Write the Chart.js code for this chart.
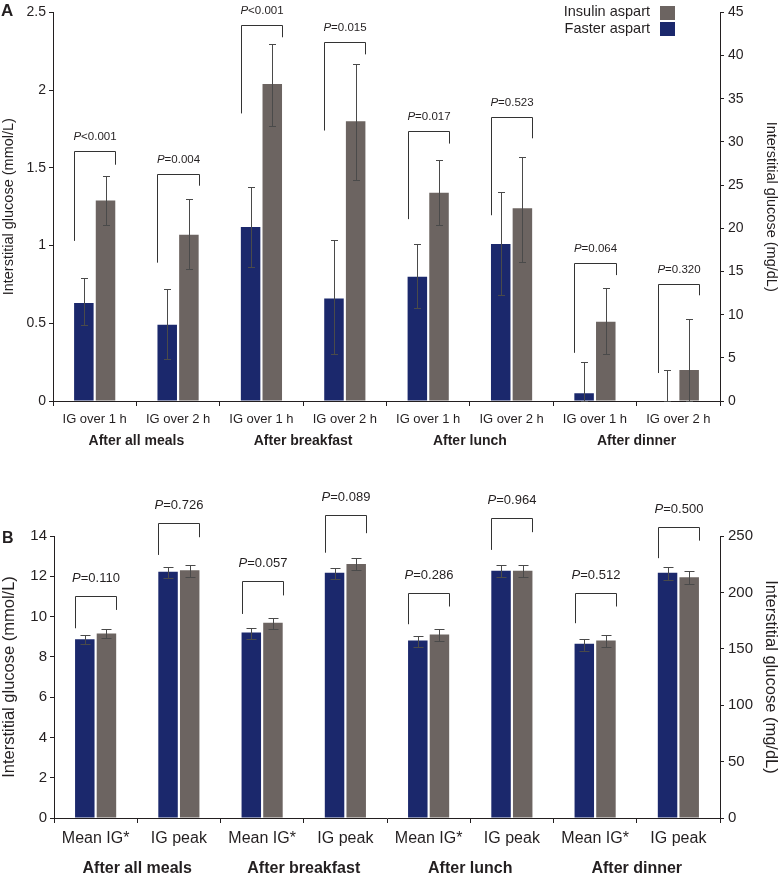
<!DOCTYPE html>
<html><head><meta charset="utf-8">
<script src="https://cdn.jsdelivr.net/npm/chart.js@4/dist/chart.umd.min.js"></script>
<style>
html,body{margin:0;padding:0;background:#fff;}
#wrap{position:relative;width:780px;height:877px;overflow:hidden;font-family:"Liberation Sans",Arial,sans-serif;color:#231f20;}
canvas{position:absolute;left:0;}
.lbl{position:absolute;font-weight:bold;line-height:1;}
.leg{position:absolute;font-size:14.5px;line-height:1;text-align:right;width:200px;}
.sw{position:absolute;width:15px;height:14px;}
</style></head><body>
<div id="wrap">
<canvas id="cA" width="780" height="455" style="top:0"></canvas>
<canvas id="cB" width="780" height="422" style="top:455px"></canvas>
<div class="lbl" style="left:1px;top:2px;font-size:17px">A</div>
<div class="lbl" style="left:2px;top:530px;font-size:16px">B</div>
<div class="leg" style="left:450px;top:4px">Insulin aspart</div>
<div class="leg" style="left:450px;top:21px">Faster aspart</div>
<div class="sw" style="left:660px;top:6px;background:#6c6461"></div>
<div class="sw" style="left:660px;top:22px;background:#1b286c"></div>
</div>
<script>
// ---------- Panel A data ----------
const catsA = ['IG over 1 h','IG over 2 h','IG over 1 h','IG over 2 h','IG over 1 h','IG over 2 h','IG over 1 h','IG over 2 h'];
const groupsA = ['After all meals','After breakfast','After lunch','After dinner'];
const fasterA    = [0.63, 0.49, 1.12, 0.66, 0.80, 1.01, 0.05, 0];
const fasterA_lo = [0.49, 0.27, 0.86, 0.30, 0.60, 0.68, 0, 0];
const fasterA_hi = [0.79, 0.72, 1.375, 1.034, 1.01, 1.345, 0.25, 0.197];
const insulinA    = [1.29, 1.07, 2.04, 1.80, 1.34, 1.24, 0.51, 0.20];
const insulinA_lo = [1.134, 0.85, 1.77, 1.42, 1.134, 0.895, 0.30, 0];
const insulinA_hi = [1.447, 1.30, 2.295, 2.17, 1.55, 1.57, 0.725, 0.53];
const bracketTopA = [1.607, 1.46, 2.418, 2.31, 1.74, 1.825, 0.89, 0.753];
const bracketLA   = [1.03, 0.89, 1.85, 1.74, 1.17, 1.195, 0.31, 0.18];
const bracketRA   = [1.52, 1.385, 2.34, 2.23, 1.656, 1.69, 0.81, 0.68];
const pA = ['<0.001','=0.004','<0.001','=0.015','=0.017','=0.523','=0.064','=0.320'];
const yTicksA  = ['0','0.5','1','1.5','2','2.5'];
const y1TicksA = ['0','5','10','15','20','25','30','35','40','45'];

// ---------- Panel B data ----------
const catsB = ['Mean IG*','IG peak','Mean IG*','IG peak','Mean IG*','IG peak','Mean IG*','IG peak'];
const groupsB = ['After all meals','After breakfast','After lunch','After dinner'];
const fasterB    = [8.88, 12.22, 9.21, 12.17, 8.81, 12.28, 8.65, 12.18];
const fasterB_lo = [8.65, 11.93, 8.91, 11.87, 8.48, 11.95, 8.30, 11.82];
const fasterB_hi = [9.09, 12.48, 9.45, 12.43, 9.06, 12.56, 8.89, 12.48];
const insulinB    = [9.16, 12.30, 9.69, 12.61, 9.11, 12.28, 8.81, 11.95];
const insulinB_lo = [8.93, 11.98, 9.40, 12.30, 8.78, 11.95, 8.48, 11.62];
const insulinB_hi = [9.37, 12.55, 9.95, 12.91, 9.36, 12.56, 9.08, 12.27];
const bracketTopB = [11.04, 14.63, 11.77, 15.05, 11.19, 14.88, 11.19, 14.46];
const bracketLB   = [9.42, 13.06, 10.13, 13.17, 9.62, 13.31, 9.67, 12.9];
const bracketRB   = [10.33, 13.94, 11.05, 14.14, 10.5, 14.19, 10.5, 13.77];
const pB = ['=0.110','=0.726','=0.057','=0.089','=0.286','=0.964','=0.512','=0.500'];
const yTicksB  = ['0','2','4','6','8','10','12','14'];
const y1TicksB = ['0','50','100','150','200','250'];

// ---------- Styling ----------
const FONT = '"Liberation Sans", Arial, sans-serif';
Chart.defaults.font.family = FONT;
Chart.defaults.color = '#231f20';
const NAVY = '#1b286c', GRAY = '#6c6461', ERR = '#4a4a4a', LINE = '#333333', INK = '#231f20';

function annotPlugin(d, st) {
  return {
    id: 'annot',
    afterDatasetsDraw(chart) {
      const ctx = chart.ctx, y = chart.scales.y;
      const m0 = chart.getDatasetMeta(0), m1 = chart.getDatasetMeta(1);
      ctx.save();
      ctx.lineWidth = 1;
      ctx.strokeStyle = ERR;
      [[m0, d.fLo, d.fHi], [m1, d.iLo, d.iHi]].forEach(([m, lo, hi]) => {
        m.data.forEach((el, j) => {
          const x = Math.round(el.x) + 0.5;
          const ya = Math.round(y.getPixelForValue(lo[j])) + 0.5;
          const yb = Math.round(y.getPixelForValue(hi[j])) + 0.5;
          const c = st.cap / 2;
          ctx.beginPath();
          ctx.moveTo(x, ya); ctx.lineTo(x, yb);
          ctx.moveTo(x - c, ya); ctx.lineTo(x + c, ya);
          ctx.moveTo(x - c, yb); ctx.lineTo(x + c, yb);
          ctx.stroke();
        });
      });
      ctx.strokeStyle = LINE;
      d.bTop.forEach((t, j) => {
        const a = m0.data[j], b = m1.data[j];
        const xl = Math.round(a.x - a.width / 2) + 0.5;
        const xr = Math.round(b.x + b.width / 2) + 0.5;
        const yt = Math.round(y.getPixelForValue(t)) + 0.5;
        ctx.beginPath();
        ctx.moveTo(xl, y.getPixelForValue(d.bL[j]));
        ctx.lineTo(xl, yt); ctx.lineTo(xr, yt);
        ctx.lineTo(xr, y.getPixelForValue(d.bR[j]));
        ctx.stroke();
        const cx = (xl + xr) / 2, ty = yt - st.textOff;
        const fi = `italic ${st.pSize}px ${FONT}`, fn = `${st.pSize}px ${FONT}`;
        ctx.font = fi; const w1 = ctx.measureText('P').width;
        ctx.font = fn; const w2 = ctx.measureText(d.p[j]).width;
        const x0 = cx - (w1 + w2) / 2;
        ctx.fillStyle = INK; ctx.textBaseline = 'middle'; ctx.textAlign = 'left';
        ctx.font = fi; ctx.fillText('P', x0, ty);
        ctx.font = fn; ctx.fillText(d.p[j], x0 + w1, ty);
      });
      ctx.restore();
    }
  };
}

function buildPanel(id, d, st) {
  new Chart(document.getElementById(id), {
    type: 'bar',
    data: {
      labels: d.cats,
      datasets: [
        { label: 'Faster aspart', data: d.f, backgroundColor: NAVY, borderWidth: 0 },
        { label: 'Insulin aspart', data: d.i, backgroundColor: GRAY, borderWidth: 0 }
      ]
    },
    options: {
      responsive: false,
      animation: false,
      devicePixelRatio: 1,
      categoryPercentage: 0.52,
      barPercentage: 0.9,
      layout: { padding: { top: st.padTop, left: 0, right: 0, bottom: 0 } },
      plugins: { legend: { display: false }, tooltip: { enabled: false } },
      scales: {
        x: {
          type: 'category', position: 'bottom', offset: true,
          grid: { display: true, drawOnChartArea: false, offset: true, color: INK, tickColor: INK, tickLength: 5, lineWidth: 1 },
          border: { display: true, color: INK, width: 1 },
          ticks: { autoSkip: false, maxRotation: 0, minRotation: 0, padding: st.xPad, font: { size: st.xSize }, color: INK },
          afterFit: s => { s.height = st.xH; }
        },
        x2: {
          type: 'category', labels: d.groups, position: 'bottom', offset: true,
          grid: { display: false, drawTicks: false, tickLength: 0 },
          border: { display: false },
          ticks: { autoSkip: false, maxRotation: 0, minRotation: 0, padding: st.x2Pad, font: { size: st.gSize, weight: 'bold' }, color: INK },
          afterFit: s => { s.height = st.x2H; }
        },
        y: {
          position: 'left', min: 0, max: st.yMax,
          ticks: { stepSize: st.yStep, padding: 3, font: { size: st.tSize }, color: INK, callback: (v, i) => d.yT[i] },
          grid: { drawOnChartArea: false, color: INK, tickColor: INK, tickLength: 4 },
          border: { display: true, color: INK, width: 1 },
          title: { display: true, text: 'Interstitial glucose (mmol/L)', font: { size: st.titleSize }, color: INK, padding: { top: 0, bottom: 0 } },
          afterFit: s => { s.width = st.lW; }
        },
        y1: {
          position: 'right', min: 0, max: st.y1Max,
          ticks: { stepSize: st.y1Step, padding: 4, font: { size: st.tSize }, color: INK, callback: (v, i) => d.y1T[i] },
          grid: { drawOnChartArea: false, color: INK, tickColor: INK, tickLength: 4 },
          border: { display: true, color: INK, width: 1 },
          title: { display: true, text: 'Interstitial glucose (mg/dL)', font: { size: st.titleSize }, color: INK, padding: { top: 0, bottom: 0 } },
          afterFit: s => { s.width = st.rW; }
        }
      }
    },
    plugins: [annotPlugin(d, st)]
  });
}

buildPanel('cA', {
  cats: catsA, groups: groupsA, f: fasterA, i: insulinA,
  fLo: fasterA_lo, fHi: fasterA_hi, iLo: insulinA_lo, iHi: insulinA_hi,
  bTop: bracketTopA, bL: bracketLA, bR: bracketRA, p: pA, yT: yTicksA, y1T: y1TicksA
}, {
  padTop: 7, xH: 28, x2H: 26, xPad: 6, x2Pad: 4, xSize: 13, gSize: 14, tSize: 14, titleSize: 14.5,
  yMax: 2.5, yStep: 0.5, y1Max: 45, y1Step: 5, lW: 53, rW: 60, cap: 7, pSize: 11.5, textOff: 15
});

buildPanel('cB', {
  cats: catsB, groups: groupsB, f: fasterB, i: insulinB,
  fLo: fasterB_lo, fHi: fasterB_hi, iLo: insulinB_lo, iHi: insulinB_hi,
  bTop: bracketTopB, bL: bracketLB, bR: bracketRB, p: pB, yT: yTicksB, y1T: y1TicksB
}, {
  padTop: 81, xH: 36, x2H: 23, xPad: 6, x2Pad: 5, xSize: 16, gSize: 16, tSize: 15, titleSize: 16.5,
  yMax: 14, yStep: 2, y1Max: 250, y1Step: 50, lW: 54, rW: 60, cap: 10, pSize: 13, textOff: 18
});
</script>
</body></html>
